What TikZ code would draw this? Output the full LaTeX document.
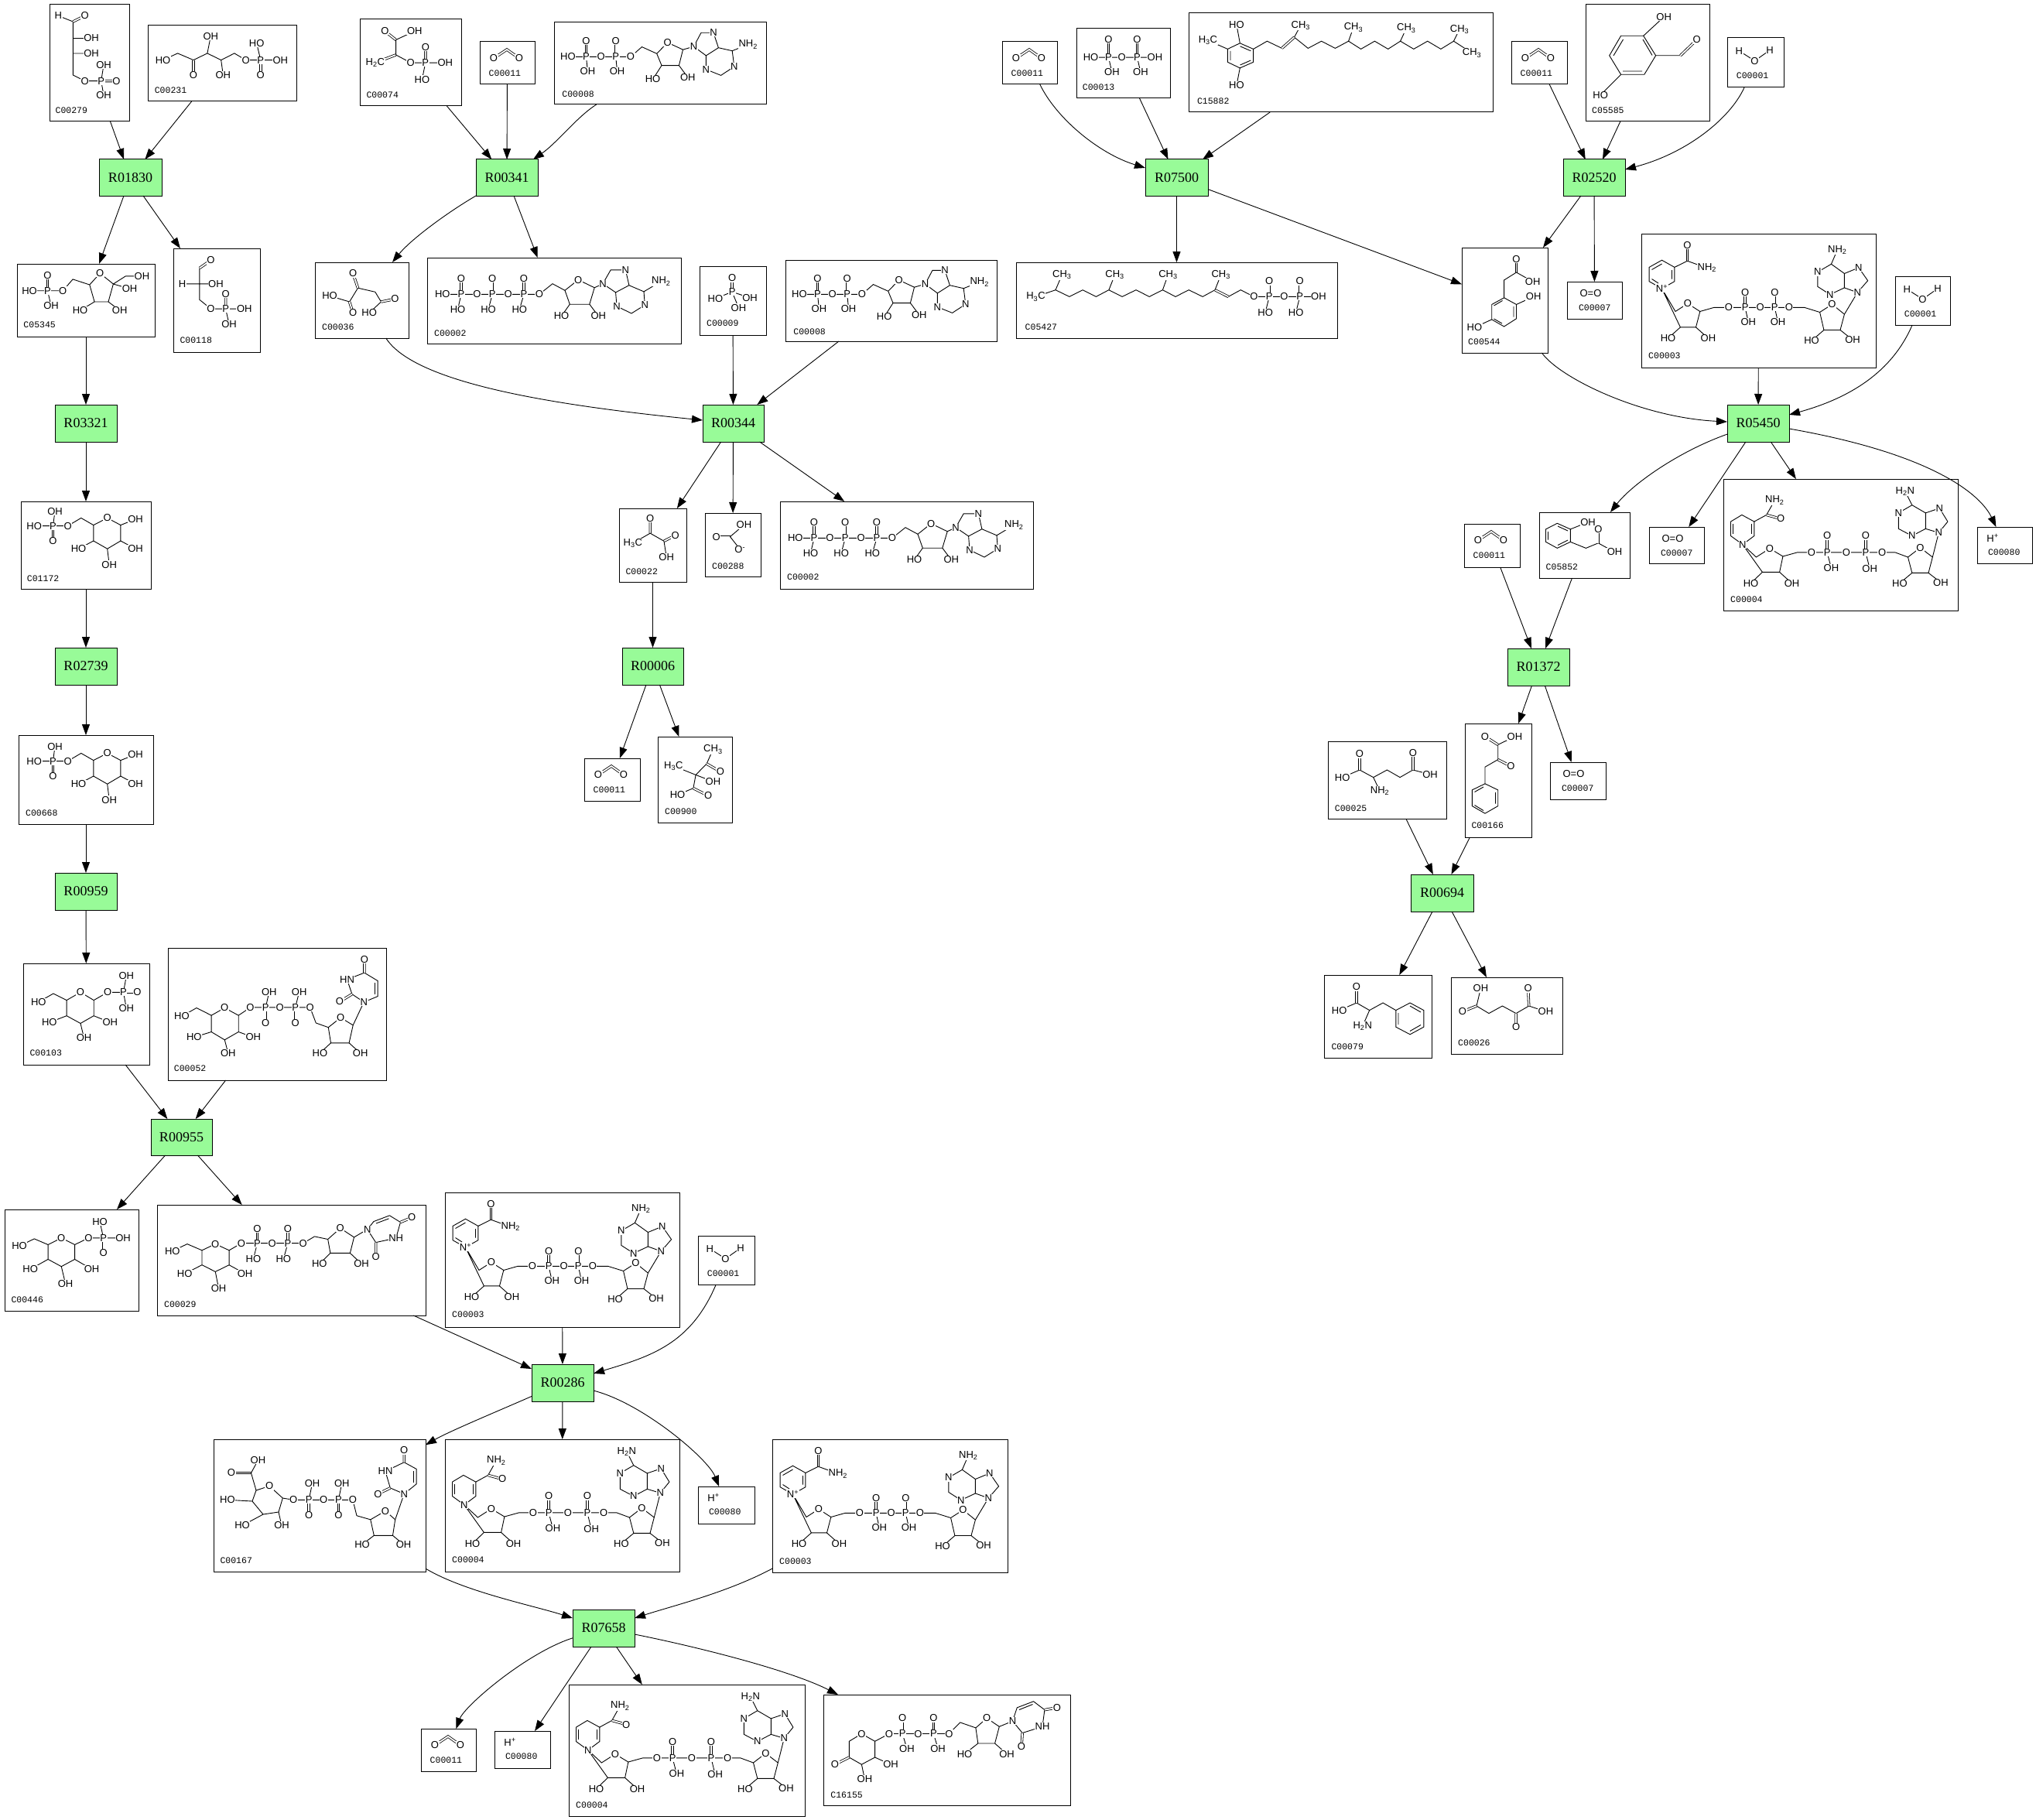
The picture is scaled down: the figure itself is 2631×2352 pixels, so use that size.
\documentclass[tikz,border=0pt]{standalone}
\usepackage{fontspec}
\setmainfont{Liberation Serif}
\setsansfont{Liberation Sans}
\setmonofont{Liberation Mono}
\usetikzlibrary{arrows.meta}
\definecolor{rgreen}{HTML}{98FB98}
\newcounter{atmc}
\newcommand\AT[2]{\stepcounter{atmc}\node[atm] (atm\arabic{atmc}) at (#1) {#2};}
\newcommand\Cpd[8]{\node[cbox, minimum width={(#4-#2)*1pt}, minimum height={(#5-#3)*1pt}] (#1) at ({(#2+#4)/2},{(#3+#5)/2}) {};\node[idl] (#1-id) at ({#2+#7},{#3+#8}) {#6};}
\newcommand\Rxn[6]{\node[rxnbox, minimum width={(#5-#3)*1pt}, minimum height={(#6-#4)*1pt}] (#1) at ({(#3+#5)/2},{(#4+#6)/2}) {#2};}
\tikzset{
 bond/.style={line width=0.9pt},
 dbl/.style={double, double distance=1.8pt, line width=0.8pt},
 atm/.style={font=\sffamily\fontsize{13}{13}\selectfont, fill=white, inner sep=0.6pt},
 cbox/.style={draw, line width=1pt, inner sep=0pt, outer sep=0pt},
 idl/.style={anchor=west, font=\ttfamily\fontsize{11.5}{12}\selectfont, inner sep=0pt},
 rxnbox/.style={draw, fill=rgreen, line width=1pt, inner sep=0pt, outer sep=0pt, font=\fontsize{18}{18}\selectfont},
 arr/.style={-{Triangle[length=14pt,width=10pt]}, line width=0.9pt},
 sCO/.pic={\draw[dbl] (17.9,21.4)--(35,10)--(51,21.4); \AT{17.9,21.4}{O}\AT{51,21.4}{O}},
 sWAT/.pic={\draw[bond] (15.4,16.8)--(35.5,29.6)--(55.1,15.8); \AT{15.4,16.8}{H}\AT{35.5,29.6}{O}\AT{55.1,15.8}{H}},
 sOO/.pic={\AT{30.5,14.8}{O=O}},
 sHp/.pic={\AT{20,14.3}{H\textsuperscript{+}}},
 sE4P/.pic={
  \draw[bond] (11.3,14.4)--(30.4,22)--(30.4,91)--(45.7,98.6)--(66.7,98.6);
  \draw[dbl] (30.4,22)--(45.7,14.4) (66.7,98.6)--(86.5,98.6);
  \draw[bond] (30.4,43.5)--(54,43.5) (30.4,63)--(54,63) (66.7,98.6)--(70,78) (66.7,98.6)--(70,117);
  \AT{11.3,14.4}{H}\AT{45.7,14.4}{O}\AT{54,43.5}{OH}\AT{54,63}{OH}\AT{45.7,98.6}{O}\AT{66.7,98.6}{P}\AT{70,78}{OH}\AT{86.5,98.6}{O}\AT{70,117}{OH}},
 sX5P/.pic={
  \draw[bond] (19.5,44.6)--(38.6,35.9)--(59,44.6)--(76.9,35.9)--(94.7,44.6)--(111.9,35.9)--(126.6,44.6)--(171.3,44.6);
  \draw[dbl] (59,44.6)--(59,64) (145.8,44.6)--(145.8,64);
  \draw[bond] (76.9,35.9)--(81.3,13.9) (94.7,44.6)--(97.3,64) (145.8,44.6)--(140.7,23.1);
  \AT{19.5,44.6}{HO}\AT{59,64}{O}\AT{81.3,13.9}{OH}\AT{97.3,64}{OH}\AT{126.6,44.6}{O}\AT{145.8,44.6}{P}\AT{171.3,44.6}{OH}\AT{140.7,23.1}{HO}\AT{145.8,64}{O}},
 sF6P/.pic={
  \draw[bond] (16,34.7)--(59.3,34.7)--(72.1,19.9)--(93.8,27)--(107.2,12.2)--(124.4,26)--(118,49)--(100.1,49)--(93.8,27);
  \draw[dbl] (39.5,34.7)--(39.5,14.8);
  \draw[bond] (39.5,34.7)--(44,54.1) (124.4,26)--(140.4,15.8)--(161.4,15.8) (124.4,26)--(145.5,32.1) (118,49)--(132.7,60.2) (100.1,49)--(81.6,60.2);
  \AT{16,34.7}{HO}\AT{39.5,34.7}{P}\AT{39.5,14.8}{O}\AT{44,54.1}{OH}\AT{59.3,34.7}{O}\AT{107.2,12.2}{O}\AT{161.4,15.8}{OH}\AT{145.5,32.1}{OH}\AT{132.7,60.2}{OH}\AT{81.6,60.2}{HO}},
 sGAP/.pic={
  \draw[dbl] (48.5,15.3)--(33.8,25.5) (67.6,78.1)--(67.6,58.7);
  \draw[bond] (33.8,25.5)--(33.8,66.3)--(48.5,78.1)--(91.8,78.1) (33.8,45.9)--(11.5,45.9) (33.8,45.9)--(54.9,45.9) (67.6,78.1)--(72.1,98);
  \AT{48.5,15.3}{O}\AT{11.5,45.9}{H}\AT{54.9,45.9}{OH}\AT{48.5,78.1}{O}\AT{67.6,78.1}{P}\AT{67.6,58.7}{O}\AT{91.8,78.1}{OH}\AT{72.1,98}{OH}},
 sG6P/.pic={
  \draw[bond] (17.2,31.6)--(60.6,31.6)--(77.8,21.4)--(93.8,30.6);
  \draw[bond] (93.8,30.6)--(111.7,21.4)--(128.9,30.6)--(128.9,51)--(111.7,61.2)--(93.8,51)--cycle;
  \draw[bond] (41.5,31.6)--(44,12.8) (128.9,30.6)--(148,23) (128.9,51)--(148,61.2) (111.7,61.2)--(114.2,81.6) (93.8,51)--(74.6,61.2);
  \draw[dbl] (41.5,31.6)--(41.5,51);
  \AT{44,12.8}{OH}\AT{17.2,31.6}{HO}\AT{41.5,31.6}{P}\AT{41.5,51}{O}\AT{60.6,31.6}{O}\AT{111.7,21.4}{O}\AT{148,23}{OH}\AT{148,61.2}{OH}\AT{114.2,81.6}{OH}\AT{74.6,61.2}{HO}},
 sG1P/.pic={
  \draw[bond] (19.8,49.9)--(38.9,39)--(56.1,47.6);
  \draw[bond] (56.1,47.6)--(74,37.3)--(91.2,47.6)--(91.2,67.7)--(74,77.5)--(56.1,67.7)--cycle;
  \draw[bond] (91.2,47.6)--(109.1,37.3)--(129.5,37.3) (129.5,37.3)--(133.3,16.1) (129.5,37.3)--(133.3,58) (91.2,67.7)--(112.3,76.3) (74,77.5)--(78.5,95.9) (56.1,67.7)--(33.8,76.3);
  \draw[dbl] (129.5,37.3)--(147.4,37.3);
  \AT{19.8,49.9}{HO}\AT{74,37.3}{O}\AT{109.1,37.3}{O}\AT{129.5,37.3}{P}\AT{133.3,16.1}{OH}\AT{147.4,37.3}{O}\AT{133.3,58}{OH}\AT{112.3,76.3}{OH}\AT{78.5,95.9}{OH}\AT{33.8,76.3}{HO}},
 sGalP/.pic={
  \draw[bond] (19.1,47.1)--(38.3,37.9)--(56.1,45.5);
  \draw[bond] (56.1,45.5)--(73.3,36.8)--(90.6,45.5)--(90.6,64.4)--(73.3,73.7)--(56.1,64.4)--cycle;
  \draw[bond] (90.6,45.5)--(108.4,36.8)--(153.1,36.8) (127.6,36.8)--(123.1,15.9) (90.6,64.4)--(112.5,77.2) (73.3,73.7)--(78.5,95.7) (56.1,64.4)--(33.2,77.2);
  \draw[dbl] (127.6,36.8)--(127.6,55.8);
  \AT{19.1,47.1}{HO}\AT{73.3,36.8}{O}\AT{108.4,36.8}{O}\AT{127.6,36.8}{P}\AT{123.1,15.9}{HO}\AT{153.1,36.8}{OH}\AT{127.6,55.8}{O}\AT{112.5,77.2}{OH}\AT{78.5,95.7}{OH}\AT{33.2,77.2}{HO}},
 sUDPG/.pic={
  \draw[bond] (19.8,59.8)--(38.9,50.6)--(58,58.8);
  \draw[bond] (58,58.8)--(75.3,50.6)--(93.1,58.8)--(93.1,77.7)--(75.3,86.4)--(58,77.7)--cycle;
  \draw[bond] (58,77.7)--(35.7,89) (93.1,77.7)--(113.5,89) (75.3,86.4)--(79.6,108.4);
  \draw[bond] (93.1,58.8)--(109,49.6)--(188.8,49.6)--(203.5,40.9)--(220.7,44.5);
  \draw[dbl] (129.5,49.6)--(129.5,30.7) (169,49.6)--(169,30.7);
  \draw[bond] (129.5,49.6)--(124.4,70) (169,49.6)--(163.3,70);
  \draw[bond] (220.7,44.5)--(236.7,30.2)--(254.5,41.9)--(249.4,62.4)--(223.9,62.4)--cycle;
  \draw[bond] (223.9,62.4)--(209.8,76.2) (249.4,62.4)--(264.1,76.2) (254.5,41.9)--(271.7,31.7);
  \draw[bond] (271.7,31.7)--(282.6,48.6)--(308.7,43)--(314.5,22.5)--(300.4,13.8)--(280,21.5)--cycle;
  \draw[bond] (299.5,17.8)--(283,24);
  \draw[dbl] (282.6,48.6)--(282.6,67.5) (314.5,22.5)--(329.2,16.4);
  \AT{19.8,59.8}{HO}\AT{75.3,50.6}{O}\AT{35.7,89}{HO}\AT{113.5,89}{OH}\AT{79.6,108.4}{OH}\AT{109,49.6}{O}\AT{129.5,49.6}{P}\AT{129.5,30.7}{O}\AT{124.4,70}{HO}\AT{148.6,49.6}{O}\AT{169,49.6}{P}\AT{169,30.7}{O}\AT{163.3,70}{HO}\AT{188.8,49.6}{O}\AT{236.7,30.2}{O}\AT{209.8,76.2}{HO}\AT{264.1,76.2}{OH}\AT{271.7,31.7}{N}\AT{282.6,67.5}{O}\AT{308.7,43}{NH}\AT{329.2,16.4}{O}},
 sUDPGal/.pic={
  \draw[bond] (17.9,88.4)--(37,77.5)--(56.1,87.2);
  \draw[bond] (56.1,87.2)--(73.3,77.5)--(91.2,87.2)--(91.2,108.5)--(73.3,118.8)--(56.1,108.5)--cycle;
  \draw[bond] (56.1,108.5)--(33.8,115.4) (91.2,108.5)--(110.3,115.4) (73.3,118.8)--(77.8,136);
  \draw[bond] (91.2,87.2)--(106.5,76.9)--(183.7,76.9)--(191.3,97)--(207.3,102.7);
  \draw[bond] (126.3,76.9)--(130.8,56.8) (164.6,76.9)--(169.7,56.8);
  \draw[dbl] (126.3,76.9)--(126.3,97) (164.6,76.9)--(164.6,97);
  \draw[bond] (207.3,102.7)--(223.2,90.1)--(239.2,99.9)--(234.1,122.8)--(210.5,122.8)--cycle;
  \draw[bond] (210.5,122.8)--(196.4,136) (234.1,122.8)--(248.7,136) (239.2,99.9)--(253.2,70);
  \draw[bond] (253.2,70)--(237.9,59.7)--(231.5,40.8)--(253.9,32.1)--(271.1,42.5)--(271.1,62.6)--cycle;
  \draw[bond] (267.6,45)--(267.6,60);
  \draw[dbl] (237.9,59.7)--(222,69.5) (253.9,32.1)--(253.9,14.9);
  \AT{17.9,88.4}{HO}\AT{73.3,77.5}{O}\AT{33.8,115.4}{HO}\AT{110.3,115.4}{OH}\AT{77.8,136}{OH}\AT{106.5,76.9}{O}\AT{126.3,76.9}{P}\AT{130.8,56.8}{OH}\AT{126.3,97}{O}\AT{144.8,76.9}{O}\AT{164.6,76.9}{P}\AT{169.7,56.8}{OH}\AT{164.6,97}{O}\AT{183.7,76.9}{O}\AT{223.2,90.1}{O}\AT{196.4,136}{HO}\AT{248.7,136}{OH}\AT{253.2,70}{N}\AT{222,69.5}{O}\AT{231.5,40.8}{HN}\AT{253.9,14.9}{O}},
 sUDPGA/.pic={
  \draw[dbl] (48.5,43.5)--(23,43.5);
  \draw[bond] (48.5,43.5)--(57.4,27.1) (48.5,43.5)--(55,66);
  \draw[bond] (55,66)--(72.1,60.4)--(89.3,76)--(84,94)--(64,97)--(50,80)--cycle;
  \draw[bond] (50,80)--(17.9,78.3) (64,97)--(37,111.5) (84,94)--(88,111.5);
  \draw[bond] (89.3,76)--(103.3,78.3)--(179.9,78.3)--(185,98.7)--(202.8,103.8);
  \draw[bond] (123.1,78.3)--(127.6,56.8) (161.4,78.3)--(165.8,56.8);
  \draw[dbl] (123.1,78.3)--(123.1,97.7) (161.4,78.3)--(161.4,97.7);
  \draw[bond] (202.8,103.8)--(222,92.6)--(234.7,103.8)--(231.5,124.3)--(207.3,124.3)--cycle;
  \draw[bond] (207.3,124.3)--(192,136) (231.5,124.3)--(245.5,136) (234.7,103.8)--(246.2,70.6);
  \draw[bond] (246.2,70.6)--(228.3,62.9)--(222,41.4)--(246.2,29.7)--(262.1,38.4)--(262.1,57.8)--cycle;
  \draw[bond] (258.6,41)--(258.6,55.5);
  \draw[dbl] (228.3,62.9)--(212.4,70.6) (246.2,29.7)--(246.2,14.3);
  \AT{23,43.5}{O}\AT{57.4,27.1}{OH}\AT{72.1,60.4}{O}\AT{17.9,78.3}{HO}\AT{37,111.5}{HO}\AT{88,111.5}{OH}\AT{103.3,78.3}{O}\AT{123.1,78.3}{P}\AT{127.6,56.8}{OH}\AT{123.1,97.7}{O}\AT{142.2,78.3}{O}\AT{161.4,78.3}{P}\AT{165.8,56.8}{OH}\AT{161.4,97.7}{O}\AT{179.9,78.3}{O}\AT{222,92.6}{O}\AT{192,136}{HO}\AT{245.5,136}{OH}\AT{246.2,70.6}{N}\AT{212.4,70.6}{O}\AT{222,41.4}{HN}\AT{246.2,14.3}{O}},
 sUDPX/.pic={
  \draw[bond] (49.4,50.5)--(66.6,60.3)--(66.6,81)--(49.4,90.2)--(33.3,81)--(33.3,60.3)--cycle;
  \draw[dbl] (33.3,81)--(14.9,90.2);
  \draw[bond] (66.6,81)--(87.1,90.2) (49.4,90.2)--(53.4,109.2);
  \draw[bond] (66.6,60.3)--(85,50.5)--(162.4,50.5)--(176.8,35.9)--(196.9,42.9);
  \draw[dbl] (102.2,50.5)--(102.2,30.4) (142.4,50.5)--(142.4,30.4);
  \draw[bond] (102.2,50.5)--(107.9,69.6) (142.4,50.5)--(148.1,69.6);
  \draw[bond] (196.9,42.9)--(211.2,30.4)--(227.3,41.3)--(221.6,63)--(199.8,63)--cycle;
  \draw[bond] (199.8,63)--(182.5,76.6) (221.6,63)--(237,76.6) (227.3,41.3)--(244.5,34.2);
  \draw[bond] (244.5,34.2)--(257.2,49.5)--(283,41.3)--(285.9,19.6)--(271.5,8.7)--(250.3,16.8)--cycle;
  \draw[bond] (270.5,12.5)--(253,19.5);
  \draw[dbl] (257.2,49.5)--(256,67.4) (285.9,19.6)--(301.9,16.8);
  \AT{49.4,50.5}{O}\AT{14.9,90.2}{O}\AT{87.1,90.2}{OH}\AT{53.4,109.2}{OH}\AT{85,50.5}{O}\AT{102.2,50.5}{P}\AT{102.2,30.4}{O}\AT{107.9,69.6}{OH}\AT{122.3,50.5}{O}\AT{142.4,50.5}{P}\AT{142.4,30.4}{O}\AT{148.1,69.6}{OH}\AT{162.4,50.5}{O}\AT{211.2,30.4}{O}\AT{182.5,76.6}{HO}\AT{237,76.6}{OH}\AT{244.5,34.2}{N}\AT{256,67.4}{O}\AT{283,41.3}{NH}\AT{301.9,16.8}{O}},
 sNAD/.pic={
  \draw[bond] (10.1,43.4)--(26.5,34.2)--(42.9,43.4)--(42.9,61.7)--(26.5,70.9)--(10.1,61.7)--cycle;
  \draw[bond] (13.5,46.5)--(26.5,39) (39.5,47)--(39.5,58.5) (13.5,58.5)--(22,64);
  \draw[bond] (42.9,43.4)--(59.4,35.2)--(84.8,44.4);
  \draw[dbl] (59.4,35.2)--(59.4,14.8);
  \draw[bond] (26.5,70.9)--(44,100.5)--(59.9,90.3)--(75.8,100.5)--(70.5,120.9)--(50.4,120.9)--cycle;
  \draw[bond] (50.4,120.9)--(34.5,135.2) (70.5,120.9)--(86.4,135.2);
  \draw[bond] (75.8,100.5)--(93.8,95.4)--(210.9,95.4)--(230.6,101.5);
  \draw[dbl] (134.1,95.4)--(134.1,76) (172.3,95.4)--(172.3,76);
  \draw[bond] (134.1,95.4)--(138.3,114.3) (172.3,95.4)--(176.5,114.3);
  \draw[bond] (230.6,101.5)--(246.5,91.3)--(262.4,104.1)--(257,124.5)--(235.9,124.5)--cycle;
  \draw[bond] (235.9,124.5)--(220,138.3) (257,124.5)--(273,137.2) (262.4,104.1)--(279.3,76);
  \draw[bond] (279.3,76)--(292.6,60.7)--(280.9,43.9)--(262.4,51.5)--(262.4,69.9)--cycle;
  \draw[bond] (262.4,69.9)--(243.8,78.6)--(227.9,68.4)--(227.9,49.5)--(245.4,39.3)--(262.4,51.5);
  \draw[bond] (245.4,39.3)--(253.3,20.9);
  \AT{26.5,70.9}{N\textsuperscript{+}}\AT{59.4,14.8}{O}\AT{84.8,44.4}{NH\textsubscript{2}}\AT{59.9,90.3}{O}\AT{34.5,135.2}{HO}\AT{86.4,135.2}{OH}
  \AT{112.9,95.4}{O}\AT{134.1,95.4}{P}\AT{134.1,76}{O}\AT{138.3,114.3}{OH}\AT{153.7,95.4}{O}\AT{172.3,95.4}{P}\AT{172.3,76}{O}\AT{176.5,114.3}{OH}\AT{190.8,95.4}{O}
  \AT{246.5,91.3}{O}\AT{220,138.3}{HO}\AT{273,137.2}{OH}
  \AT{279.3,76}{N}\AT{280.9,43.9}{N}\AT{243.8,78.6}{N}\AT{227.9,49.5}{N}\AT{253.3,20.9}{NH\textsubscript{2}}},
 sNADH/.pic={
  \draw[bond] (9.5,55.1)--(23.9,46.4)--(39.8,55.1)--(39.8,73.5)--(24.9,84.7)--(9.5,73.5)--cycle;
  \draw[bond] (12.8,58)--(12.8,71) (36.5,58)--(36.5,71);
  \draw[bond] (39.8,55.1)--(55.7,46.4)--(66.3,27.6);
  \draw[dbl] (55.7,46.4)--(74.2,51.5);
  \draw[bond] (24.9,84.7)--(42.4,101)--(59.9,89.8)--(76.9,100)--(72.6,120.4)--(50.4,120.4)--cycle;
  \draw[bond] (50.4,120.4)--(35.5,134.7) (72.6,120.4)--(88.5,134.7);
  \draw[bond] (76.9,100)--(95.4,94.9)--(222,94.9)--(238.5,101);
  \draw[dbl] (134.1,94.9)--(134.1,73.5) (183.9,94.9)--(183.9,73.5);
  \draw[bond] (134.1,94.9)--(139.4,115.3) (183.9,94.9)--(189.2,116.3);
  \draw[bond] (238.5,101)--(254.4,88.8)--(270.3,101)--(265,121.4)--(243.8,121.4)--cycle;
  \draw[bond] (243.8,121.4)--(227.9,134.7) (265,121.4)--(280.9,133.7) (270.3,101)--(278.3,69.4);
  \draw[bond] (243.8,33.7)--(226.3,43.9)--(226.3,64.3)--(243.8,73.5)--(261.3,64.3)--(261.3,43.9)--cycle;
  \draw[bond] (261.3,43.9)--(279.3,37.8)--(289.9,55.1)--(278.3,69.4)--(261.3,64.3);
  \draw[bond] (243.8,33.7)--(234.8,15.8);
  \AT{24.9,84.7}{N}\AT{66.3,27.6}{NH\textsubscript{2}}\AT{74.2,51.5}{O}\AT{59.9,89.8}{O}\AT{35.5,134.7}{HO}\AT{88.5,134.7}{OH}
  \AT{114,94.9}{O}\AT{134.1,94.9}{P}\AT{134.1,73.5}{O}\AT{139.4,115.3}{OH}\AT{159,94.9}{O}\AT{183.9,94.9}{P}\AT{183.9,73.5}{O}\AT{189.2,116.3}{OH}\AT{205.1,94.9}{O}
  \AT{254.4,88.8}{O}\AT{227.9,134.7}{HO}\AT{280.9,133.7}{OH}
  \AT{226.3,43.9}{N}\AT{243.8,73.5}{N}\AT{279.3,37.8}{N}\AT{278.3,69.4}{N}\AT{234.8,15.8}{H\textsubscript{2}N}},
 sATP/.pic={
  \draw[bond] (19.8,47.4)--(144.8,47.4)--(162,33.7)--(178,42.3);
  \draw[dbl] (44,47.4)--(44,27) (84.2,47.4)--(84.2,27) (125,47.4)--(125,27);
  \draw[bond] (44,47.4)--(39.5,66.8) (84.2,47.4)--(79.1,66.8) (125,47.4)--(119.3,66.8);
  \draw[bond] (178,42.3)--(195.2,28.6)--(216.2,38.8)--(209.8,60.2)--(184.3,60.2)--cycle;
  \draw[bond] (184.3,60.2)--(173.5,75.5) (209.8,60.2)--(221.3,75.5) (216.2,38.8)--(227,33.7);
  \draw[bond] (227,33.7)--(237.2,15.8)--(256.4,15.8)--(260.9,35.7)--(243.6,44.9)--cycle;
  \draw[bond] (243.6,44.9)--(245,62.8)--(264,72)--(281.3,61.2)--(280,43.9)--(260.9,35.7);
  \draw[bond] (280,43.9)--(302.3,30.6);
  \AT{19.8,47.4}{HO}\AT{44,47.4}{P}\AT{44,27}{O}\AT{39.5,66.8}{HO}\AT{64.4,47.4}{O}\AT{84.2,47.4}{P}\AT{84.2,27}{O}\AT{79.1,66.8}{HO}\AT{104.6,47.4}{O}\AT{125,47.4}{P}\AT{125,27}{O}\AT{119.3,66.8}{HO}\AT{144.8,47.4}{O}
  \AT{195.2,28.6}{O}\AT{173.5,75.5}{HO}\AT{221.3,75.5}{OH}
  \AT{227,33.7}{N}\AT{256.4,15.8}{N}\AT{245,62.8}{N}\AT{281.3,61.2}{N}\AT{302.3,30.6}{NH\textsubscript{2}}},
 sADP/.pic={
  \draw[bond] (17.9,44.4)--(98.9,44.4)--(113.5,31.6)--(132.7,40.3);
  \draw[dbl] (41.5,44.4)--(41.5,24) (79.7,44.4)--(79.7,24);
  \draw[bond] (41.5,44.4)--(43.4,63.3) (79.7,44.4)--(81.6,63.3);
  \draw[bond] (132.7,40.3)--(146.7,26)--(166.5,35.2)--(161.4,55.6)--(139,55.6)--cycle;
  \draw[bond] (139,55.6)--(127.6,73.5) (161.4,55.6)--(172.8,70.9) (166.5,35.2)--(180.5,31.1);
  \draw[bond] (180.5,31.1)--(190,13.3)--(206,13.3)--(212.4,32.7)--(196.4,42.9)--cycle;
  \draw[bond] (196.4,42.9)--(196.4,60.7)--(215.6,68.4)--(232.8,57.1)--(230.2,36.7)--(212.4,32.7);
  \draw[bond] (230.2,36.7)--(250.7,28.6);
  \AT{17.9,44.4}{HO}\AT{41.5,44.4}{P}\AT{41.5,24}{O}\AT{43.4,63.3}{OH}\AT{60.6,44.4}{O}\AT{79.7,44.4}{P}\AT{79.7,24}{O}\AT{81.6,63.3}{OH}\AT{98.9,44.4}{O}
  \AT{146.7,26}{O}\AT{127.6,73.5}{HO}\AT{172.8,70.9}{OH}
  \AT{180.5,31.1}{N}\AT{206,13.3}{N}\AT{196.4,60.7}{N}\AT{232.8,57.1}{N}\AT{250.7,28.6}{NH\textsubscript{2}}},
 sPEP/.pic={
  \draw[dbl] (32.5,15.3)--(46.6,26.5) (46.6,45.9)--(19.8,56.1) (84.8,56.1)--(84.8,35.7);
  \draw[bond] (46.6,26.5)--(70.8,15.3) (46.6,26.5)--(46.6,45.9)--(65.7,56.1)--(110.3,56.1) (84.8,56.1)--(80.4,77.6);
  \AT{32.5,15.3}{O}\AT{70.8,15.3}{OH}\AT{19.8,56.1}{H\textsubscript{2}C}\AT{65.7,56.1}{O}\AT{84.8,56.1}{P}\AT{84.8,35.7}{O}\AT{110.3,56.1}{OH}\AT{80.4,77.6}{HO}},
 sOAA/.pic={
  \draw[bond] (19.1,43.4)--(44.6,51)--(55.5,33.2)--(77.8,38.3)--(85.5,51)--(70.2,65.3);
  \draw[dbl] (44.6,51)--(49.1,65.3) (55.5,33.2)--(49.1,14.3) (85.5,51)--(103.3,47.4);
  \AT{19.1,43.4}{HO}\AT{49.1,65.3}{O}\AT{49.1,14.3}{O}\AT{103.3,47.4}{O}\AT{70.2,65.3}{HO}},
 sPi/.pic={
  \draw[dbl] (42.1,33.2)--(42.1,15.3);
  \draw[bond] (42.1,33.2)--(20.4,41.8) (42.1,33.2)--(65.1,40.8) (42.1,33.2)--(50.4,53.6);
  \AT{42.1,15.3}{O}\AT{42.1,33.2}{P}\AT{20.4,41.8}{HO}\AT{65.1,40.8}{OH}\AT{50.4,53.6}{OH}},
 sPyr/.pic={
  \draw[dbl] (40.2,32.1)--(40.2,12.8) (58,42.3)--(72.7,34.7);
  \draw[bond] (40.2,32.1)--(17.9,44.9) (40.2,32.1)--(58,42.3)--(61.2,62.8);
  \AT{40.2,12.8}{O}\AT{17.9,44.9}{H\textsubscript{3}C}\AT{72.7,34.7}{O}\AT{61.2,62.8}{OH}},
 sHCO/.pic={
  \draw[dbl] (32.5,30.6)--(14.7,30.6);
  \draw[bond] (32.5,30.6)--(50.4,15.3) (32.5,30.6)--(45.3,46.9);
  \AT{14.7,30.6}{O}\AT{50.4,15.3}{OH}\AT{45.3,46.9}{O\textsuperscript{-}}},
 sALac/.pic={
  \draw[bond] (20.4,37.9)--(49.1,49.4)--(63.1,35)--(71.4,16.6) (49.1,49.4)--(71.4,58) (49.1,49.4)--(45.9,66.6)--(25.5,75.2);
  \draw[dbl] (63.1,35)--(81,45.3) (45.9,66.6)--(65.1,76.3);
  \AT{71.4,16.6}{CH\textsubscript{3}}\AT{20.4,37.9}{H\textsubscript{3}C}\AT{81,45.3}{O}\AT{71.4,58}{OH}\AT{25.5,75.2}{HO}\AT{65.1,76.3}{O}},
 sPPi/.pic={
  \draw[bond] (18.5,37.2)--(101.4,37.2) (41.5,37.2)--(45.9,56.1) (78.5,37.2)--(82.9,56.1);
  \draw[dbl] (41.5,37.2)--(41.5,14.3) (78.5,37.2)--(78.5,14.3);
  \AT{18.5,37.2}{HO}\AT{41.5,37.2}{P}\AT{41.5,14.3}{O}\AT{45.9,56.1}{OH}\AT{58.7,37.2}{O}\AT{78.5,37.2}{P}\AT{78.5,14.3}{O}\AT{101.4,37.2}{OH}\AT{82.9,56.1}{OH}},
 sMGGQ/.pic={
  \draw[bond] (50.4,46.4)--(66.3,38.8)--(83.6,46.4)--(83.6,63.3)--(66.3,70.9)--(50.4,63.3)--cycle;
  \draw[bond] (54,49)--(54,60.8) (66.5,42.8)--(80.3,48.8) (80.3,61)--(66.5,67);
  \draw[bond] (66.3,38.8)--(61.9,14.8) (66.3,70.9)--(61.9,93.4) (50.4,46.4)--(24.9,35.2);
  \draw[bond] (83.6,46.4)--(101.4,36.2)--(120.5,45.4)--(136.5,31.1)--(154.3,45.4)--(171.6,36.2)--(189.4,45.4)--(206.6,36.2)--(222.6,46.4)--(240.4,36.2)--(257.7,46.4)--(273.6,36.2)--(290.8,46.4)--(308.7,36.2)--(325.9,46.4)--(342.5,36.2)--(366.1,51.5);
  \draw[dbl] (120.5,45.4)--(136.5,31.1);
  \draw[bond] (136.5,31.1)--(144.8,15.8) (206.6,36.2)--(213,18.4) (273.6,36.2)--(281.3,19.4) (342.5,36.2)--(350.1,20.9);
  \AT{61.9,14.8}{HO}\AT{61.9,93.4}{HO}\AT{24.9,35.2}{H\textsubscript{3}C}\AT{144.8,15.8}{CH\textsubscript{3}}\AT{213,18.4}{CH\textsubscript{3}}\AT{281.3,19.4}{CH\textsubscript{3}}\AT{350.1,20.9}{CH\textsubscript{3}}\AT{366.1,51.5}{CH\textsubscript{3}}},
 sPhyPP/.pic={
  \draw[bond] (25.5,44.4)--(51,35.7)--(68.9,44.4)--(86.1,35.7)--(103.3,44.4)--(119.9,35.7)--(137.1,44.4)--(155,35.7)--(172.2,44.4)--(189.4,35.7)--(206,44.4)--(223.2,35.7)--(241.1,44.4)--(257,35.7)--(274.3,44.4)--(290.2,35.7)--(307.4,44.4)--(390.9,44.4);
  \draw[dbl] (257,35.7)--(274.3,44.4);
  \draw[bond] (51,35.7)--(59.3,16.3) (119.9,35.7)--(127.6,16.3) (189.4,35.7)--(196.4,16.3) (257,35.7)--(264.7,16.3);
  \draw[dbl] (327.2,44.4)--(327.2,24.5) (366.7,44.4)--(366.7,24.5);
  \draw[bond] (327.2,44.4)--(322.1,64.8) (366.7,44.4)--(361.6,64.8);
  \AT{25.5,44.4}{H\textsubscript{3}C}\AT{59.3,16.3}{CH\textsubscript{3}}\AT{127.6,16.3}{CH\textsubscript{3}}\AT{196.4,16.3}{CH\textsubscript{3}}\AT{264.7,16.3}{CH\textsubscript{3}}\AT{307.4,44.4}{O}\AT{327.2,44.4}{P}\AT{327.2,24.5}{O}\AT{322.1,64.8}{HO}\AT{346.3,44.4}{O}\AT{366.7,44.4}{P}\AT{366.7,24.5}{O}\AT{390.9,44.4}{OH}\AT{361.6,64.8}{HO}},
 sHGA/.pic={
  \draw[dbl] (70.5,32)--(70.5,14.8);
  \draw[bond] (70.5,32)--(91.7,43.9) (70.5,32)--(54.6,42)--(54.6,64.8);
  \draw[bond] (54.6,64.8)--(70.5,73.5)--(70.5,91.8)--(54.6,102)--(38.7,92.9)--(38.7,73.5)--cycle;
  \draw[bond] (67,76)--(67,89.5) (52,98)--(41.5,92) (41.5,75)--(52.5,68.5);
  \draw[bond] (70.5,73.5)--(92.7,63.3) (38.7,92.9)--(16.4,103.1);
  \AT{70.5,14.8}{O}\AT{91.7,43.9}{OH}\AT{92.7,63.3}{OH}\AT{16.4,103.1}{HO}},
 sGald/.pic={
  \draw[bond] (74.7,40.3)--(45.6,40.3)--(30.7,65.8)--(45.6,90.3)--(75.8,90.3)--(90.6,65.8)--cycle;
  \draw[bond] (48.5,45)--(36,66) (48,86)--(73,86) (74,45)--(86,65.5);
  \draw[bond] (74.7,40.3)--(101.2,15.8) (90.6,65.8)--(122.5,65.8) (45.6,90.3)--(19.1,116.8);
  \draw[dbl] (122.5,65.8)--(143.6,45.4);
  \AT{101.2,15.8}{OH}\AT{143.6,45.4}{O}\AT{19.1,116.8}{HO}},
 sOHPA/.pic={
  \draw[bond] (8.5,21.9)--(23.3,14.3)--(40.3,21.9)--(40.3,38.3)--(23.3,46.4)--(8.5,38.3)--cycle;
  \draw[bond] (11.5,25)--(11.5,35.5) (24,18)--(37,24) (37,36)--(24,42.5);
  \draw[bond] (40.3,21.9)--(63.1,12.8) (40.3,38.3)--(60.4,46.4)--(76.3,39.8)--(97.5,51.5);
  \draw[dbl] (76.3,39.8)--(76.3,21.9);
  \AT{63.1,12.8}{OH}\AT{76.3,21.9}{O}\AT{97.5,51.5}{OH}},
 sPPY/.pic={
  \draw[dbl] (26,16.8)--(42.7,27.4) (42.7,46.6)--(59.4,55.2);
  \draw[bond] (42.7,27.4)--(64.4,16.8) (42.7,27.4)--(42.7,46.6)--(26,56.2)--(26,77.8);
  \draw[bond] (26,77.8)--(42.7,85.9)--(42.7,106.6)--(26,116.2)--(9.3,106.6)--(9.3,85.9)--cycle;
  \draw[bond] (12.5,88.5)--(24,82) (39.5,89)--(39.5,103.5) (24,112.5)--(12.5,105.5);
  \AT{26,16.8}{O}\AT{64.4,16.8}{OH}\AT{59.4,55.2}{O}},
 sGlu/.pic={
  \draw[bond] (18.7,46.6)--(41,37)--(58.7,46.6)--(76.4,37)--(93.1,46.6)--(109.8,37)--(132.1,42.7) (58.7,46.6)--(67.1,64.3);
  \draw[dbl] (41,37)--(41,16.3) (109.8,37)--(109.8,14.9);
  \AT{18.7,46.6}{HO}\AT{41,16.3}{O}\AT{67.1,64.3}{NH\textsubscript{2}}\AT{109.8,14.9}{O}\AT{132.1,42.7}{OH}},
 sPhe/.pic={
  \draw[bond] (19.7,45.6)--(42,36)--(58.7,45.6)--(76.1,36)--(92.8,45.6) (58.7,45.6)--(49.7,66.2);
  \draw[dbl] (42,36)--(42,15.4);
  \draw[bond] (92.8,45.6)--(111.1,36)--(128.8,45.6)--(128.8,67.2)--(111.1,76.8)--(92.8,67.2)--cycle;
  \draw[bond] (96,49)--(96,64) (111,40)--(125,48) (125,64.5)--(111,72.5);
  \AT{19.7,45.6}{HO}\AT{42,15.4}{O}\AT{49.7,66.2}{H\textsubscript{2}N}},
 sAKG/.pic={
  \draw[bond] (33,37)--(38.4,14.4) (33,37)--(49,46.6)--(66.4,37)--(84.1,46.6)--(100.7,37)--(122.4,44.2);
  \draw[dbl] (33,37)--(15,44.2) (84.1,46.6)--(84.1,64.3) (100.7,37)--(99.7,14.4);
  \AT{38.4,14.4}{OH}\AT{15,44.2}{O}\AT{84.1,64.3}{O}\AT{99.7,14.4}{O}\AT{122.4,44.2}{OH}}
}
\begin{document}
\begin{tikzpicture}[x=1pt,y=-1pt]
\useasboundingbox (0,0) rectangle (2631,2352);
\fill[white] (0,0) rectangle (2631,2352);
% ---- left column
\Cpd{c279}{64}{6}{167}{157}{C00279}{7.4}{137}
\Cpd{c231}{191}{33}{383}{131}{C00231}{8.6}{84}
\Rxn{r01830}{R01830}{128}{206}{209}{253}
\Cpd{c5345}{22}{341}{200}{435}{C05345}{8.3}{78.6}
\Cpd{c118}{224}{321}{336}{455}{C00118}{8.3}{118.4}
\Rxn{r03321}{R03321}{71}{523}{151}{571}
\Cpd{c1172}{27}{648}{195}{761}{C01172}{7.7}{100}
\Rxn{r02739}{R02739}{71}{837}{151}{885}
\Cpd{c668}{24}{950}{198}{1065}{C00668}{8.9}{100.5}
\Rxn{r00959}{R00959}{71}{1128}{151}{1176}
\Cpd{c103}{30}{1245}{193}{1376}{C00103}{8.3}{116}
\Cpd{c52}{217}{1225}{499}{1396}{C00052}{7.7}{156}
\Rxn{r00955}{R00955}{195}{1446}{274}{1493}
\Cpd{c446}{6}{1563}{179}{1694}{C00446}{8.3}{116.6}
\Cpd{c29}{203}{1557}{550}{1700}{C00029}{8.9}{128.9}
\Cpd{c3a}{575}{1541}{878}{1715}{C00003}{9}{158}
\Cpd{c1a}{902}{1597}{975}{1660}{C00001}{11.7}{49}
\Rxn{r00286}{R00286}{687}{1763}{767}{1811}
\Cpd{c167}{276}{1860}{550}{2031}{C00167}{8.3}{156.5}
\Cpd{c4a}{575}{1860}{878}{2031}{C00004}{9}{156}
\Cpd{c80b}{902}{1921}{975}{1969}{C00080}{13.8}{32.6}
\Cpd{c3b}{998}{1860}{1302}{2032}{C00003}{9}{158}
\Rxn{r07658}{R07658}{740}{2080}{820}{2128}
\Cpd{c11f}{544}{2234}{615}{2289}{C00011}{11.5}{41}
\Cpd{c80c}{639}{2237}{711}{2285}{C00080}{13.8}{32.6}
\Cpd{c4b}{735}{2177}{1040}{2347}{C00004}{9}{156}
\Cpd{c16155}{1064}{2190}{1383}{2333}{C16155}{9.2}{129.3}
% ---- middle
\Cpd{c74}{465}{25}{596}{137}{C00074}{8.3}{97.4}
\Cpd{c11a}{620}{54}{691}{109}{C00011}{11.5}{41}
\Cpd{c8a}{716}{29}{990}{135}{C00008}{10.2}{92.3}
\Rxn{r00341}{R00341}{615}{206}{695}{253}
\Cpd{c36}{407}{339}{528}{437}{C00036}{8.9}{84.2}
\Cpd{c2a}{552}{333}{880}{444}{C00002}{8.9}{97.4}
\Cpd{c9}{904}{344}{990}{433}{C00009}{8.9}{74}
\Cpd{c8b}{1015}{336}{1288}{441}{C00008}{10.2}{92.3}
\Rxn{r00344}{R00344}{908}{523}{987}{571}
\Cpd{c22}{800}{657}{887}{752}{C00022}{8.3}{81.6}
\Cpd{c288}{911}{663}{983}{745}{C00288}{8.9}{68.9}
\Cpd{c2b}{1008}{648}{1335}{761}{C00002}{8.9}{97.4}
\Rxn{r00006}{R00006}{804}{837}{883}{885}
\Cpd{c11e}{755}{980}{827}{1035}{C00011}{11.5}{41}
\Cpd{c900}{850}{952}{946}{1063}{C00900}{8.9}{96.4}
% ---- right
\Cpd{c11b}{1295}{54}{1366}{109}{C00011}{11.5}{41}
\Cpd{c13}{1391}{37}{1512}{127}{C00013}{7.7}{76}
\Cpd{c15882}{1536}{17}{1929}{145}{C15882}{10.8}{113.8}
\Rxn{r07500}{R07500}{1480}{206}{1561}{253}
\Cpd{c5427}{1313}{339}{1728}{437}{C05427}{11.5}{84.2}
\Cpd{c11d}{1953}{54}{2025}{109}{C00011}{11.5}{41}
\Cpd{c5585}{2049}{6}{2209}{157}{C05585}{8}{137.2}
\Cpd{c1b}{2232}{49}{2305}{113}{C00001}{11.7}{49}
\Rxn{r02520}{R02520}{2020}{206}{2100}{253}
\Cpd{c544}{1889}{320}{2000}{456}{C00544}{8}{121.4}
\Cpd{c7a}{2025}{364}{2096}{412}{C00007}{14.8}{33.7}
\Cpd{c3c}{2121}{302}{2424}{475}{C00003}{9}{158}
\Cpd{c1c}{2449}{357}{2520}{420}{C00001}{11.7}{49}
\Rxn{r05450}{R05450}{2232}{523}{2312}{571}
\Cpd{c11c}{1892}{677}{1964}{733}{C00011}{11.5}{41}
\Cpd{c5852}{1989}{662}{2106}{747}{C05852}{8.5}{70.4}
\Cpd{c7b}{2131}{681}{2202}{728}{C00007}{14.8}{33.7}
\Cpd{c4c}{2227}{619}{2530}{789}{C00004}{9}{156}
\Cpd{c80a}{2555}{681}{2626}{728}{C00080}{13.8}{32.6}
\Rxn{r01372}{R01372}{1948}{838}{2028}{886}
\Cpd{c166}{1893}{935}{1979}{1082}{C00166}{8.3}{131.5}
\Cpd{c7c}{2003}{985}{2075}{1033}{C00007}{14.8}{33.7}
\Cpd{c25}{1716}{958}{1869}{1058}{C00025}{8.7}{86.9}
\Rxn{r00694}{R00694}{1823}{1130}{1904}{1178}
\Cpd{c79}{1711}{1260}{1850}{1367}{C00079}{9.3}{92.6}
\Cpd{c26}{1875}{1263}{2019}{1362}{C00026}{9}{85}
% ---- structures
\pic at (64,6) {sE4P};
\pic at (191,33) {sX5P};
\pic at (22,341) {sF6P};
\pic at (224,321) {sGAP};
\pic at (27,648) {sG6P};
\pic at (27,952) {sG6P};
\pic at (30,1245) {sG1P};
\pic at (217,1225) {sUDPGal};
\pic at (6,1563) {sGalP};
\pic at (203,1557) {sUDPG};
\pic at (575,1541) {sNAD};
\pic at (902,1597) {sWAT};
\pic at (276,1860) {sUDPGA};
\pic at (575,1860) {sNADH};
\pic at (902,1921) {sHp};
\pic at (998,1860) {sNAD};
\pic at (544,2234) {sCO};
\pic at (639,2237) {sHp};
\pic at (735,2177) {sNADH};
\pic at (1064,2190) {sUDPX};
\pic at (465,25) {sPEP};
\pic at (620,54) {sCO};
\pic at (716,29) {sADP};
\pic at (407,339) {sOAA};
\pic at (552,333) {sATP};
\pic at (904,344) {sPi};
\pic at (1015,336) {sADP};
\pic at (800,657) {sPyr};
\pic at (911,663) {sHCO};
\pic at (1008,648) {sATP};
\pic at (755,980) {sCO};
\pic at (850,952) {sALac};
\pic at (1295,54) {sCO};
\pic at (1391,37) {sPPi};
\pic at (1536,17) {sMGGQ};
\pic at (1313,339) {sPhyPP};
\pic at (1953,54) {sCO};
\pic at (2049,6) {sGald};
\pic at (2232,49) {sWAT};
\pic at (1889,320) {sHGA};
\pic at (2025,364) {sOO};
\pic at (2121,302) {sNAD};
\pic at (2449,357) {sWAT};
\pic at (1892,677) {sCO};
\pic at (1989,662) {sOHPA};
\pic at (2131,681) {sOO};
\pic at (2227,619) {sNADH};
\pic at (2555,681) {sHp};
\pic at (1893,935) {sPPY};
\pic at (2003,985) {sOO};
\pic at (1716,958) {sGlu};
\pic at (1711,1260) {sPhe};
\pic at (1875,1263) {sAKG};
% ---- connectors
\draw[arr] (c279) -- (r01830);
\draw[arr] (c231) -- (r01830);
\draw[arr] (r01830) -- (c5345);
\draw[arr] (r01830) -- (c118);
\draw[arr] (c5345) -- (r03321);
\draw[arr] (r03321) -- (c1172);
\draw[arr] (c1172) -- (r02739);
\draw[arr] (r02739) -- (c668);
\draw[arr] (c668) -- (r00959);
\draw[arr] (r00959) -- (c103);
\draw[arr] (c103) -- (r00955);
\draw[arr] (c52) -- (r00955);
\draw[arr] (r00955) -- (c446);
\draw[arr] (r00955) -- (c29);
\draw[arr] (c29) -- (r00286);
\draw[arr] (c3a) -- (r00286);
\draw[arr] (c1a) .. controls (892.5,1737.5) and (840,1753) .. (r00286);
\draw[arr] (r00286) .. controls (640,1825) and (580,1850) .. (c167);
\draw[arr] (r00286) -- (c4a);
\draw[arr] (r00286) .. controls (830,1813) and (915,1885) .. (c80b);
\draw[arr] (c167) .. controls (600,2057) and (690,2075) .. (r07658);
\draw[arr] (c3b) .. controls (940,2058) and (870,2075) .. (r07658);
\draw[arr] (r07658) .. controls (680,2136) and (600,2205) .. (c11f);
\draw[arr] (r07658) -- (c80c);
\draw[arr] (r07658) -- (c4b);
\draw[arr] (r07658) .. controls (900,2128) and (1020,2158) .. (c16155);
\draw[arr] (c74) -- (r00341);
\draw[arr] (c11a) -- (r00341);
\draw[arr] (c8a) .. controls (745,151.5) and (720,184.5) .. (r00341);
\draw[arr] (r00341) .. controls (575,276.5) and (530,310.5) .. (c36);
\draw[arr] (r00341) -- (c2a);
\draw[arr] (c36) .. controls (536.5,496) and (720,524) .. (r00344);
\draw[arr] (c9) -- (r00344);
\draw[arr] (c8b) -- (r00344);
\draw[arr] (r00344) -- (c22);
\draw[arr] (r00344) -- (c288);
\draw[arr] (r00344) -- (c2b);
\draw[arr] (c22) -- (r00006);
\draw[arr] (r00006) -- (c11e);
\draw[arr] (r00006) -- (c900);
\draw[arr] (c11b) .. controls (1365,153) and (1420,198.5) .. (r07500);
\draw[arr] (c13) -- (r07500);
\draw[arr] (c15882) -- (r07500);
\draw[arr] (r07500) -- (c5427);
\draw[arr] (r07500) -- (c544);
\draw[arr] (c11d) -- (r02520);
\draw[arr] (c5585) -- (r02520);
\draw[arr] (c1b) .. controls (2236,153) and (2180,198) .. (r02520);
\draw[arr] (r02520) -- (c544);
\draw[arr] (r02520) -- (c7a);
\draw[arr] (c544) .. controls (2015,488) and (2120,539.5) .. (r05450);
\draw[arr] (c3c) -- (r05450);
\draw[arr] (c1c) .. controls (2445,481) and (2390,514.5) .. (r05450);
\draw[arr] (r05450) .. controls (2170,583) and (2110,625) .. (c5852);
\draw[arr] (r05450) -- (c7b);
\draw[arr] (r05450) -- (c4c);
\draw[arr] (r05450) .. controls (2500,587) and (2560,640) .. (c80a);
\draw[arr] (c11c) -- (r01372);
\draw[arr] (c5852) -- (r01372);
\draw[arr] (r01372) -- (c166);
\draw[arr] (r01372) -- (c7c);
\draw[arr] (c25) -- (r00694);
\draw[arr] (c166) -- (r00694);
\draw[arr] (r00694) -- (c79);
\draw[arr] (r00694) -- (c26);
\end{tikzpicture}
\end{document}
